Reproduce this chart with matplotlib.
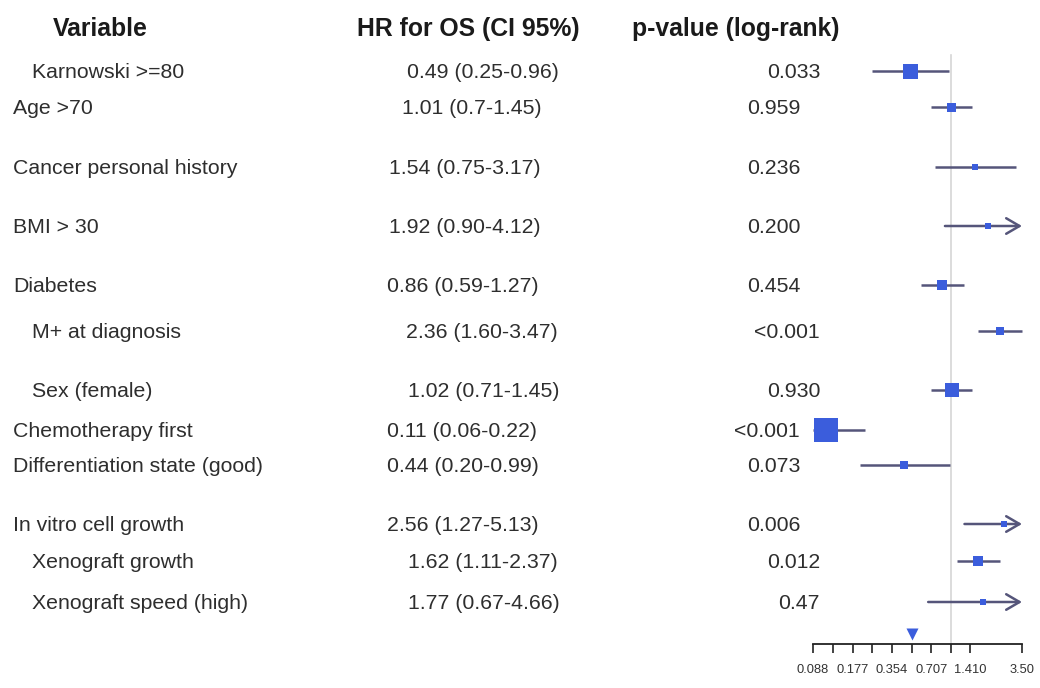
import matplotlib
matplotlib.use("Agg")
import matplotlib.pyplot as plt
import numpy as np

plt.rcParams['font.family'] = ['Liberation Sans', 'DejaVu Sans']

# ---------------- data ----------------
variables = ["Karnowski >=80", "Age >70", "Cancer personal history", "BMI > 30",
             "Diabetes", "M+ at diagnosis", "Sex (female)", "Chemotherapy first",
             "Differentiation state (good)", "In vitro cell growth",
             "Xenograft growth", "Xenograft speed (high)"]
hr = [0.49, 1.01, 1.54, 1.92, 0.86, 2.36, 1.02, 0.11, 0.44, 2.56, 1.62, 1.77]
ci_low = [0.25, 0.7, 0.75, 0.90, 0.59, 1.60, 0.71, 0.06, 0.20, 1.27, 1.11, 0.67]
ci_high = [0.96, 1.45, 3.17, 4.12, 1.27, 3.47, 1.45, 0.22, 0.99, 5.13, 2.37, 4.66]
hr_text = ["0.49 (0.25-0.96)", "1.01 (0.7-1.45)", "1.54 (0.75-3.17)", "1.92 (0.90-4.12)",
           "0.86 (0.59-1.27)", "2.36 (1.60-3.47)", "1.02 (0.71-1.45)", "0.11 (0.06-0.22)",
           "0.44 (0.20-0.99)", "2.56 (1.27-5.13)", "1.62 (1.11-2.37)", "1.77 (0.67-4.66)"]
p_values = ["0.033", "0.959", "0.236", "0.200", "0.454", "<0.001", "0.930", "<0.001",
            "0.073", "0.006", "0.012", "0.47"]
headers = ["Variable", "HR for OS (CI 95%)", "p-value (log-rank)"]
tick_values = [0.088, 0.125, 0.177, 0.25, 0.354, 0.5, 0.707, 1.0, 1.41, 3.5]
tick_labels = ["0.088", "", "0.177", "", "0.354", "", "0.707", "", "1.410", "3.50"]
x_limits = (0.088, 3.5)
summary_mark = 0.5

# ---------------- layout / style ----------------
row_y = [71, 107, 167, 226, 285, 331, 390, 430, 465, 524, 561, 602]
indent = [True, False, False, False, False, True, True, False, False, False, True, True]
hr_x = [407, 402, 389, 389, 387, 406, 408, 387, 387, 387, 408, 408]
box_px = [15, 9, 6, 6, 10, 8, 14, 24, 8, 6, 10, 6]
BLUE = "#3b5ddc"
LINE = "#55557a"
TXT = "#2e2e2e"
FS = 15.3
HFS = 17.8

W, H = 1040, 688
fig = plt.figure(figsize=(W / 100, H / 100), dpi=100)
fig.patch.set_facecolor("white")

# text layer in pixel coordinates
ax_t = fig.add_axes([0, 0, 1, 1])
ax_t.set_xlim(0, W)
ax_t.set_ylim(H, 0)
ax_t.axis("off")

ax_t.text(53, 36, headers[0], fontsize=HFS, fontweight="bold", color="#1a1a1a", va="baseline", ha="left")
ax_t.text(357, 36, headers[1], fontsize=HFS, fontweight="bold", color="#1a1a1a", va="baseline", ha="left")
ax_t.text(632, 36, headers[2], fontsize=HFS, fontweight="bold", color="#1a1a1a", va="baseline", ha="left")

for i, name in enumerate(variables):
    yb = row_y[i] + 7
    ax_t.text(32 if indent[i] else 13, yb, name, fontsize=FS, color=TXT, va="baseline", ha="left")
    ax_t.text(hr_x[i], yb, hr_text[i], fontsize=FS, color=TXT, va="baseline", ha="left")
    ax_t.text(820 if indent[i] else 800, yb, p_values[i], fontsize=FS, color=TXT,
              va="baseline", ha="right")

# forest panel: x log-scale, y in pixel rows
left_px, right_px, top_px, bot_px = 813, 1022, 40, 644
ax = fig.add_axes([left_px / W, (H - bot_px) / H, (right_px - left_px) / W, (bot_px - top_px) / H])
ax.set_xscale("log")
ax.set_xlim(*x_limits)
ax.set_ylim(bot_px, top_px)
ax.patch.set_alpha(0)
for s in ["top", "left", "right"]:
    ax.spines[s].set_visible(False)
ax.spines["bottom"].set_linewidth(1.3)
ax.spines["bottom"].set_color("#222222")
ax.set_yticks([])
ax.xaxis.set_minor_locator(matplotlib.ticker.NullLocator())
ax.set_xticks(tick_values)
ax.set_xticklabels(tick_labels)
ax.tick_params(axis="x", direction="out", length=6.5, width=1.2, color="#222222",
               labelsize=9.3, labelcolor="#333333", pad=8)

# reference line at HR = 1
ax.axvline(1.0, ymin=0, ymax=(bot_px - 55) / (bot_px - top_px), color="#d6d6d6", lw=1.2, zorder=1)

for i in range(len(variables)):
    y = row_y[i]
    lo = max(ci_low[i], x_limits[0])
    hi = ci_high[i]
    if hi > x_limits[1]:
        ax.annotate("", xy=(x_limits[1], y), xytext=(lo, y),
                    arrowprops=dict(arrowstyle="->,head_length=0.6,head_width=0.35",
                                    lw=1.8, color=LINE, shrinkA=0, shrinkB=0,
                                    mutation_scale=16),
                    annotation_clip=False, zorder=2)
    else:
        ax.plot([lo, hi], [y, y], color=LINE, lw=1.8, solid_capstyle="butt", zorder=2, clip_on=False)
    ax.scatter([hr[i]], [y], marker="s", s=(box_px[i] * 0.72) ** 2, color=BLUE,
               edgecolors="none", zorder=3, clip_on=False)

ax.plot([summary_mark], [634], marker="v", ms=8, color=BLUE, mec="none", clip_on=False, zorder=3)

fig.savefig("out.png", dpi=100, facecolor="white")
